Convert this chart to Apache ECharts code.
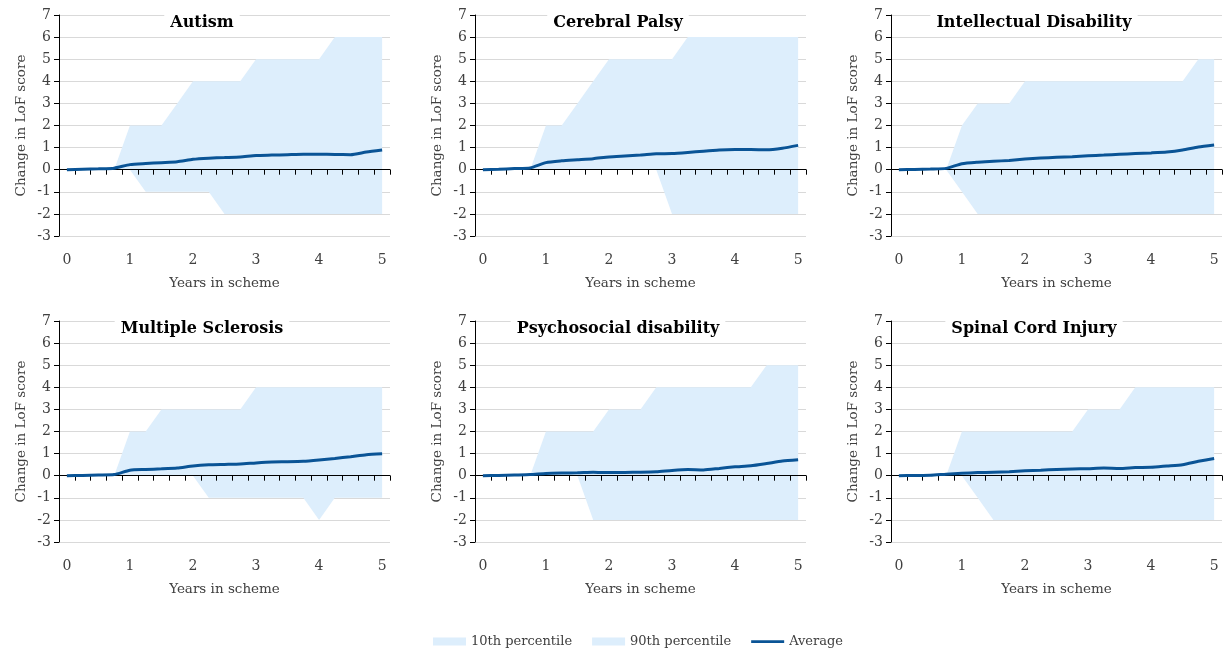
<!DOCTYPE html>
<html>
<head>
<meta charset="utf-8">
<script src="https://cdn.jsdelivr.net/npm/echarts@6/dist/echarts.min.js"></script>
<style>
html,body{margin:0;padding:0;background:#fff;}
#chart{width:1223px;height:652px;}
</style>
</head>
<body>
<div id="chart"></div>
<script>
const years = ['0','0.25','0.5','0.75','1','1.25','1.5','1.75','2','2.25','2.5','2.75','3','3.25','3.5','3.75','4','4.25','4.5','4.75','5'];
const panelTitles = ['Autism','Cerebral Palsy','Intellectual Disability','Multiple Sclerosis','Psychosocial disability','Spinal Cord Injury'];
const yTicks = [-3,-2,-1,0,1,2,3,4,5,6,7];

const autismP10 = [0,0,0,0,0,-1,-1,-1,-1,-1,-2,-2,-2,-2,-2,-2,-2,-2,-2,-2,-2];
const autismP90 = [0,0,0,0,2,2,2,3,4,4,4,4,5,5,5,5,5,6,6,6,6];
const autismAvg = [0,0.02,0.04,0.07,0.23,0.28,0.32,0.36,0.47,0.52,0.55,0.58,0.64,0.66,0.68,0.70,0.70,0.69,0.68,0.80,0.89];

const cpP10 = [0,0,0,0,0,0,0,0,0,0,0,0,-2,-2,-2,-2,-2,-2,-2,-2,-2];
const cpP90 = [0,0,0,0,2,2,3,4,5,5,5,5,5,6,6,6,6,6,6,6,6];
const cpAvg = [0,0.02,0.05,0.08,0.32,0.40,0.45,0.50,0.58,0.62,0.66,0.72,0.73,0.78,0.84,0.89,0.91,0.91,0.90,0.97,1.10];

const idP10 = [0,0,0,0,-1,-2,-2,-2,-2,-2,-2,-2,-2,-2,-2,-2,-2,-2,-2,-2,-2];
const idP90 = [0,0,0,0,2,3,3,3,4,4,4,4,4,4,4,4,4,4,4,5,5];
const idAvg = [0,0.01,0.03,0.06,0.27,0.34,0.38,0.42,0.48,0.53,0.56,0.59,0.63,0.66,0.70,0.73,0.76,0.80,0.89,1.03,1.12];

const msP10 = [0,0,0,0,0,0,0,0,0,-1,-1,-1,-1,-1,-1,-1,-2,-1,-1,-1,-1];
const msP90 = [0,0,0,0,2,2,3,3,3,3,3,3,4,4,4,4,4,4,4,4,4];
const msAvg = [0,0.01,0.03,0.05,0.25,0.28,0.31,0.35,0.44,0.49,0.51,0.53,0.58,0.62,0.63,0.65,0.71,0.78,0.86,0.95,0.99];

const psyP10 = [0,0,0,0,0,0,0,-2,-2,-2,-2,-2,-2,-2,-2,-2,-2,-2,-2,-2,-2];
const psyP90 = [0,0,0,0,2,2,2,2,3,3,3,4,4,4,4,4,4,4,5,5,5];
const psyAvg = [0,0.01,0.03,0.05,0.10,0.12,0.13,0.16,0.14,0.15,0.16,0.18,0.24,0.28,0.26,0.33,0.40,0.45,0.55,0.66,0.72];

const sciP10 = [0,0,0,0,0,-1,-2,-2,-2,-2,-2,-2,-2,-2,-2,-2,-2,-2,-2,-2,-2];
const sciP90 = [0,0,0,0,2,2,2,2,2,2,2,2,3,3,3,4,4,4,4,4,4];
const sciAvg = [0,0.01,0.02,0.07,0.11,0.14,0.16,0.18,0.22,0.25,0.28,0.30,0.32,0.35,0.33,0.37,0.38,0.44,0.50,0.65,0.78];

const p10Sets = [autismP10, cpP10, idP10, msP10, psyP10, sciP10];
const p90Sets = [autismP90, cpP90, idP90, msP90, psyP90, sciP90];
const avgSets = [autismAvg, cpAvg, idAvg, msAvg, psyAvg, sciAvg];

const FONT = 'DejaVu Serif';
const AREA = '#DDEEFC';
const LINE = '#0A5496';
const TXT = '#404040';

const lefts = [59, 475, 891];
const tops = [15, 321];
const titleCenters = [196, 612, 1028];

const grids = [], xAxes = [], yAxes = [], series = [], titles = [];
for (let p = 0; p < 6; p++) {
  const col = p % 3, row = Math.floor(p / 3);
  grids.push({left: lefts[col], top: tops[row], width: 331, height: 221, containLabel: false});
  // axis line at zero with ticks (drawn above the shaded areas)
  xAxes.push({
    type: 'category', gridIndex: p, data: years, boundaryGap: true, z: 10,
    axisLine: {onZero: true, lineStyle: {color: '#000', width: 1}},
    axisTick: {show: true, interval: 0, length: 5, inside: false, lineStyle: {color: '#000'}},
    axisLabel: {show: false}, splitLine: {show: false}
  });
  // bottom labels
  xAxes.push({
    type: 'category', gridIndex: p, data: years, boundaryGap: true, position: 'bottom',
    axisLine: {show: false, onZero: false}, axisTick: {show: false},
    axisLabel: {show: true, interval: 3, margin: 17, fontFamily: FONT, fontSize: 14, color: TXT},
    name: 'Years in scheme', nameLocation: 'middle', nameGap: 40,
    nameTextStyle: {fontFamily: FONT, fontSize: 13.5, color: TXT},
    splitLine: {show: false}
  });
  yAxes.push({
    type: 'value', gridIndex: p, min: -3, max: 7, interval: 1,
    axisLine: {show: true, lineStyle: {color: '#000', width: 1}},
    axisTick: {show: true, length: 5, inside: false, lineStyle: {color: '#000'}},
    axisLabel: {fontFamily: FONT, fontSize: 14, color: TXT, margin: 8},
    splitLine: {show: true, lineStyle: {color: '#D9D9D9', width: 1}},
    name: 'Change in LoF score', nameLocation: 'middle', nameGap: 31, nameRotate: 90,
    nameTextStyle: {fontFamily: FONT, fontSize: 13.5, color: TXT}
  });
  titles.push({
    text: panelTitles[p], left: titleCenters[col], textAlign: 'center', top: tops[row] - 3,
    backgroundColor: '#fff', padding: [3, 6],
    textStyle: {fontFamily: FONT, fontSize: 16, fontWeight: 'bold', color: '#000'}
  });
  series.push({
    name: '10th percentile', type: 'line', xAxisIndex: 2 * p, yAxisIndex: p, data: p10Sets[p],
    symbol: 'none', lineStyle: {width: 0, opacity: 0}, itemStyle: {color: AREA},
    areaStyle: {color: AREA, opacity: 1, origin: 0}, z: 1, silent: true
  });
  series.push({
    name: '90th percentile', type: 'line', xAxisIndex: 2 * p, yAxisIndex: p, data: p90Sets[p],
    symbol: 'none', lineStyle: {width: 0, opacity: 0}, itemStyle: {color: AREA},
    areaStyle: {color: AREA, opacity: 1, origin: 0}, z: 1, silent: true
  });
  series.push({
    name: 'Average', type: 'line', xAxisIndex: 2 * p, yAxisIndex: p, data: avgSets[p],
    symbol: 'none', smooth: 0.2, lineStyle: {width: 3, color: LINE}, itemStyle: {color: LINE}, z: 12
  });
}

const chart = echarts.init(document.getElementById('chart'), null, {renderer: 'canvas'});
chart.setOption({
  animation: false,
  backgroundColor: '#fff',
  title: titles,
  grid: grids,
  xAxis: xAxes,
  yAxis: yAxes,
  legend: {
    top: 630, left: 428, itemGap: 20, itemWidth: 33, itemHeight: 8,
    textStyle: {fontFamily: FONT, fontSize: 13, color: TXT},
    data: [
      {name: '10th percentile', icon: 'rect', itemStyle: {color: AREA}},
      {name: '90th percentile', icon: 'rect', itemStyle: {color: AREA}},
      {name: 'Average', icon: 'path://M0,0H36V3H0Z', itemStyle: {color: LINE}}
    ],
    selectedMode: false
  },
  series: series
});
</script>
</body>
</html>
